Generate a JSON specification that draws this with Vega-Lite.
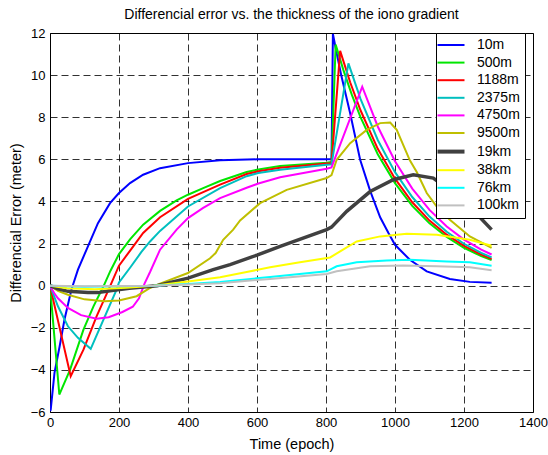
{
  "$schema": "https://vega.github.io/schema/vega-lite/v6.json",
  "autosize": {"type": "none"},
  "padding": {"left": 50, "top": 33, "right": 15, "bottom": 43},
  "width": 483,
  "height": 379,
  "background": "white",
  "title": {"text": "Differencial error vs. the thickness of the iono gradient", "fontSize": 14, "fontWeight": "normal", "font": "Liberation Sans", "color": "black", "offset": 5, "anchor": "middle"},
  "config": {
    "font": "Liberation Sans",
    "view": {"stroke": "black", "strokeWidth": 1},
    "axis": {"labelFont": "Liberation Sans", "labelFontSize": 13, "labelColor": "black", "titleFont": "Liberation Sans", "titleFontSize": 14.5, "titleFontWeight": "normal", "titleColor": "black", "grid": true, "gridColor": "#000", "gridDash": [7, 4], "gridWidth": 0.9, "gridOpacity": 0.9, "ticks": false, "domain": false}
  },
  "data": {"values": [
    {"s":"10m","t":0,"v":-5.95},{"s":"10m","t":2,"v":-5.9},{"s":"10m","t":13,"v":-4.14},{"s":"10m","t":28,"v":-2.88},{"s":"10m","t":42,"v":-1.61},{"s":"10m","t":62,"v":-0.19},{"s":"10m","t":81,"v":0.76},{"s":"10m","t":110,"v":1.87},{"s":"10m","t":139,"v":2.97},{"s":"10m","t":174,"v":3.92},{"s":"10m","t":200,"v":4.4},{"s":"10m","t":232,"v":4.87},{"s":"10m","t":270,"v":5.27},{"s":"10m","t":319,"v":5.58},{"s":"10m","t":400,"v":5.82},{"s":"10m","t":493,"v":5.96},{"s":"10m","t":600,"v":6.0},{"s":"10m","t":816,"v":6.0},{"s":"10m","t":820,"v":11.95},{"s":"10m","t":831,"v":11.04},{"s":"10m","t":845,"v":9.93},{"s":"10m","t":870,"v":8.19},{"s":"10m","t":899,"v":5.98},{"s":"10m","t":928,"v":4.5},{"s":"10m","t":957,"v":3.25},{"s":"10m","t":981,"v":2.5},{"s":"10m","t":1000,"v":1.94},{"s":"10m","t":1043,"v":1.23},{"s":"10m","t":1092,"v":0.68},{"s":"10m","t":1159,"v":0.32},{"s":"10m","t":1217,"v":0.18},{"s":"10m","t":1280,"v":0.14},

    {"s":"500m","t":0,"v":0},{"s":"500m","t":27,"v":-5.17},{"s":"500m","t":58,"v":-4.0},{"s":"500m","t":97,"v":-2.09},{"s":"500m","t":126,"v":-0.98},{"s":"500m","t":155,"v":-0.03},{"s":"500m","t":175,"v":0.7},{"s":"500m","t":200,"v":1.5},{"s":"500m","t":232,"v":2.2},{"s":"500m","t":270,"v":2.9},{"s":"500m","t":319,"v":3.55},{"s":"500m","t":367,"v":4.05},{"s":"500m","t":400,"v":4.32},{"s":"500m","t":444,"v":4.63},{"s":"500m","t":493,"v":4.97},{"s":"500m","t":570,"v":5.4},{"s":"500m","t":604,"v":5.52},{"s":"500m","t":667,"v":5.68},{"s":"500m","t":802,"v":5.84},{"s":"500m","t":816,"v":5.87},{"s":"500m","t":828,"v":11.45},{"s":"500m","t":850,"v":10.26},{"s":"500m","t":875,"v":9.06},{"s":"500m","t":900,"v":8.0},{"s":"500m","t":950,"v":6.24},{"s":"500m","t":1000,"v":4.87},{"s":"500m","t":1050,"v":3.79},{"s":"500m","t":1100,"v":2.96},{"s":"500m","t":1150,"v":2.31},{"s":"500m","t":1200,"v":1.8},{"s":"500m","t":1250,"v":1.4},{"s":"500m","t":1280,"v":1.21},

    {"s":"1188m","t":0,"v":0},{"s":"1188m","t":60,"v":-4.3},{"s":"1188m","t":97,"v":-3.04},{"s":"1188m","t":135,"v":-1.46},{"s":"1188m","t":174,"v":-0.03},{"s":"1188m","t":200,"v":0.95},{"s":"1188m","t":236,"v":1.75},{"s":"1188m","t":270,"v":2.5},{"s":"1188m","t":319,"v":3.25},{"s":"1188m","t":400,"v":4.12},{"s":"1188m","t":493,"v":4.8},{"s":"1188m","t":570,"v":5.3},{"s":"1188m","t":604,"v":5.43},{"s":"1188m","t":667,"v":5.6},{"s":"1188m","t":802,"v":5.8},{"s":"1188m","t":816,"v":5.82},{"s":"1188m","t":841,"v":11.15},{"s":"1188m","t":870,"v":9.66},{"s":"1188m","t":900,"v":8.33},{"s":"1188m","t":950,"v":6.5},{"s":"1188m","t":1000,"v":5.08},{"s":"1188m","t":1050,"v":3.96},{"s":"1188m","t":1100,"v":3.09},{"s":"1188m","t":1150,"v":2.42},{"s":"1188m","t":1200,"v":1.89},{"s":"1188m","t":1250,"v":1.47},{"s":"1188m","t":1280,"v":1.27},

    {"s":"2375m","t":0,"v":0},{"s":"2375m","t":23,"v":-0.98},{"s":"2375m","t":52,"v":-1.93},{"s":"2375m","t":81,"v":-2.48},{"s":"2375m","t":118,"v":-3.0},{"s":"2375m","t":155,"v":-1.61},{"s":"2375m","t":193,"v":-0.19},{"s":"2375m","t":200,"v":0.15},{"s":"2375m","t":232,"v":0.85},{"s":"2375m","t":265,"v":1.6},{"s":"2375m","t":290,"v":2.1},{"s":"2375m","t":319,"v":2.6},{"s":"2375m","t":400,"v":3.76},{"s":"2375m","t":493,"v":4.63},{"s":"2375m","t":570,"v":5.2},{"s":"2375m","t":604,"v":5.35},{"s":"2375m","t":667,"v":5.5},{"s":"2375m","t":802,"v":5.74},{"s":"2375m","t":816,"v":5.76},{"s":"2375m","t":865,"v":10.56},{"s":"2375m","t":900,"v":8.87},{"s":"2375m","t":950,"v":6.92},{"s":"2375m","t":1000,"v":5.39},{"s":"2375m","t":1050,"v":4.21},{"s":"2375m","t":1100,"v":3.28},{"s":"2375m","t":1150,"v":2.56},{"s":"2375m","t":1200,"v":1.99},{"s":"2375m","t":1250,"v":1.56},{"s":"2375m","t":1280,"v":1.34},

    {"s":"4750m","t":0,"v":0},{"s":"4750m","t":12,"v":-0.35},{"s":"4750m","t":23,"v":-0.6},{"s":"4750m","t":52,"v":-1.06},{"s":"4750m","t":90,"v":-1.4},{"s":"4750m","t":135,"v":-1.57},{"s":"4750m","t":170,"v":-1.5},{"s":"4750m","t":210,"v":-1.25},{"s":"4750m","t":240,"v":-1.0},{"s":"4750m","t":258,"v":-0.6},{"s":"4750m","t":274,"v":0.1},{"s":"4750m","t":290,"v":0.65},{"s":"4750m","t":319,"v":1.71},{"s":"4750m","t":367,"v":2.66},{"s":"4750m","t":400,"v":3.21},{"s":"4750m","t":444,"v":3.69},{"s":"4750m","t":493,"v":4.16},{"s":"4750m","t":570,"v":4.65},{"s":"4750m","t":604,"v":4.85},{"s":"4750m","t":667,"v":5.15},{"s":"4750m","t":802,"v":5.55},{"s":"4750m","t":816,"v":5.62},{"s":"4750m","t":905,"v":9.45},{"s":"4750m","t":950,"v":7.56},{"s":"4750m","t":1000,"v":5.91},{"s":"4750m","t":1050,"v":4.61},{"s":"4750m","t":1100,"v":3.6},{"s":"4750m","t":1150,"v":2.81},{"s":"4750m","t":1200,"v":2.19},{"s":"4750m","t":1250,"v":1.71},{"s":"4750m","t":1280,"v":1.48},

    {"s":"9500m","t":0,"v":0},{"s":"9500m","t":23,"v":-0.25},{"s":"9500m","t":52,"v":-0.43},{"s":"9500m","t":100,"v":-0.65},{"s":"9500m","t":158,"v":-0.74},{"s":"9500m","t":200,"v":-0.7},{"s":"9500m","t":251,"v":-0.5},{"s":"9500m","t":290,"v":-0.11},{"s":"9500m","t":319,"v":0.1},{"s":"9500m","t":400,"v":0.6},{"s":"9500m","t":464,"v":1.3},{"s":"9500m","t":480,"v":1.55},{"s":"9500m","t":502,"v":2.18},{"s":"9500m","t":531,"v":2.66},{"s":"9500m","t":551,"v":3.1},{"s":"9500m","t":609,"v":3.92},{"s":"9500m","t":686,"v":4.55},{"s":"9500m","t":802,"v":5.11},{"s":"9500m","t":816,"v":5.25},{"s":"9500m","t":831,"v":5.98},{"s":"9500m","t":870,"v":6.77},{"s":"9500m","t":918,"v":7.4},{"s":"9500m","t":957,"v":7.72},{"s":"9500m","t":986,"v":7.75},{"s":"9500m","t":1005,"v":7.4},{"s":"9500m","t":1043,"v":5.95},{"s":"9500m","t":1063,"v":5.4},{"s":"9500m","t":1092,"v":4.4},{"s":"9500m","t":1121,"v":3.76},{"s":"9500m","t":1159,"v":3.13},{"s":"9500m","t":1217,"v":2.34},{"s":"9500m","t":1280,"v":1.79},

    {"s":"19km","t":0,"v":0},{"s":"19km","t":23,"v":-0.15},{"s":"19km","t":52,"v":-0.27},{"s":"19km","t":110,"v":-0.32},{"s":"19km","t":139,"v":-0.33},{"s":"19km","t":174,"v":-0.24},{"s":"19km","t":230,"v":-0.12},{"s":"19km","t":310,"v":0},{"s":"19km","t":400,"v":0.36},{"s":"19km","t":473,"v":0.76},{"s":"19km","t":522,"v":1.0},{"s":"19km","t":600,"v":1.45},{"s":"19km","t":667,"v":1.87},{"s":"19km","t":802,"v":2.66},{"s":"19km","t":816,"v":2.78},{"s":"19km","t":860,"v":3.53},{"s":"19km","t":928,"v":4.47},{"s":"19km","t":995,"v":5.03},{"s":"19km","t":1053,"v":5.27},{"s":"19km","t":1111,"v":5.11},{"s":"19km","t":1170,"v":4.4},{"s":"19km","t":1217,"v":3.76},{"s":"19km","t":1237,"v":3.4},{"s":"19km","t":1280,"v":2.66},

    {"s":"38km","t":0,"v":0},{"s":"38km","t":50,"v":-0.12},{"s":"38km","t":130,"v":-0.17},{"s":"38km","t":220,"v":-0.1},{"s":"38km","t":300,"v":0},{"s":"38km","t":400,"v":0.2},{"s":"38km","t":493,"v":0.4},{"s":"38km","t":570,"v":0.65},{"s":"38km","t":638,"v":0.87},{"s":"38km","t":720,"v":1.1},{"s":"38km","t":812,"v":1.34},{"s":"38km","t":841,"v":1.63},{"s":"38km","t":889,"v":2.1},{"s":"38km","t":957,"v":2.34},{"s":"38km","t":1034,"v":2.47},{"s":"38km","t":1121,"v":2.42},{"s":"38km","t":1217,"v":2.18},{"s":"38km","t":1280,"v":1.9},

    {"s":"76km","t":0,"v":0},{"s":"76km","t":100,"v":-0.05},{"s":"76km","t":300,"v":0},{"s":"76km","t":400,"v":0.08},{"s":"76km","t":493,"v":0.18},{"s":"76km","t":638,"v":0.41},{"s":"76km","t":802,"v":0.68},{"s":"76km","t":831,"v":0.92},{"s":"76km","t":889,"v":1.11},{"s":"76km","t":976,"v":1.2},{"s":"76km","t":1043,"v":1.23},{"s":"76km","t":1150,"v":1.15},{"s":"76km","t":1217,"v":1.11},{"s":"76km","t":1280,"v":0.95},

    {"s":"100km","t":0,"v":0},{"s":"100km","t":100,"v":-0.03},{"s":"100km","t":300,"v":0},{"s":"100km","t":400,"v":0.06},{"s":"100km","t":493,"v":0.12},{"s":"100km","t":638,"v":0.32},{"s":"100km","t":802,"v":0.55},{"s":"100km","t":831,"v":0.68},{"s":"100km","t":928,"v":0.92},{"s":"100km","t":1024,"v":0.96},{"s":"100km","t":1121,"v":0.92},{"s":"100km","t":1217,"v":0.87},{"s":"100km","t":1280,"v":0.73}
  ]},
  "mark": {"type": "line", "interpolate": "linear", "clip": true},
  "encoding": {
    "x": {"field": "t", "type": "quantitative", "title": "Time (epoch)",
          "scale": {"domain": [0, 1400], "nice": false, "zero": false},
          "axis": {"values": [0, 200, 400, 600, 800, 1000, 1200, 1400], "format": "d", "labelPadding": 4, "titlePadding": 8, "labelFlush": false}},
    "y": {"field": "v", "type": "quantitative", "title": "Differencial Error (meter)",
          "scale": {"domain": [-6, 12], "nice": false, "zero": false},
          "axis": {"values": [-6, -4, -2, 0, 2, 4, 6, 8, 10, 12], "format": "d", "labelPadding": 5, "titlePadding": 7, "labelFlush": false}},
    "color": {"field": "s", "type": "nominal", "title": null,
              "scale": {"domain": ["10m", "500m", "1188m", "2375m", "4750m", "9500m", "19km", "38km", "76km", "100km"],
                        "range": ["#0000ff", "#00e600", "#ff0000", "#00bfbf", "#ff00ff", "#bfbf00", "#404040", "#ffff00", "#00ffff", "#c0c0c0"]},
              "legend": {"orient": "none", "legendX": 386, "legendY": 0, "direction": "vertical",
                         "fillColor": "white", "strokeColor": "black", "padding": 5,
                         "symbolType": "stroke", "symbolSize": 729, "symbolStrokeWidth": 2, "symbolOffset": 3,
                         "labelFontSize": 14, "labelFont": "Liberation Sans", "labelColor": "black", "labelOffset": 19,
                         "rowPadding": 3.6, "labelLimit": 200,
                         "encode": {"symbols": {"update": {"strokeWidth": {"signal": "datum.value === '19km' ? 4 : 2"}, "size": {"value": 729}}}}}},
    "strokeWidth": {"condition": {"test": "datum.s === '19km'", "value": 3.5}, "value": 2}
  }
}
